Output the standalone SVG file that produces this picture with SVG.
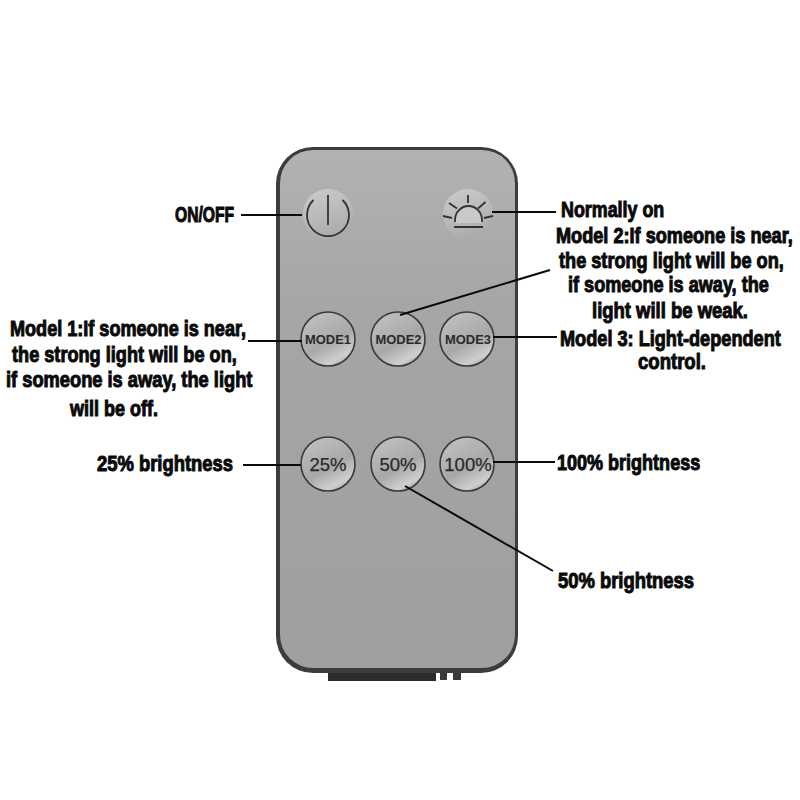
<svg xmlns="http://www.w3.org/2000/svg" width="800" height="800" viewBox="0 0 800 800">
  <style>
    .lbl { font-family: "Liberation Sans", Arial, sans-serif; font-weight: 700; font-size: 21.5px; fill: #0a0a0a; stroke: #0a0a0a; stroke-width: 1px; }
    .lead { stroke: #0a0a0a; stroke-width: 2; fill: none; stroke-linecap: butt; }
    .ring { fill: url(#key); stroke: #3a3a3a; stroke-width: 1.6; }
    .cap { font-family: "Liberation Sans", Arial, sans-serif; fill: #2a2a2a; stroke: #2a2a2a; stroke-width: .25px; text-anchor: middle; }
    .mode { font-weight: 700; font-size: 13px; stroke-width: 0; }
    .pct { font-size: 18.5px; }
    .soft { fill: url(#softKey); }
    .icon { fill: none; stroke: #333; stroke-width: 1.8; }
  </style>
  <defs>
    <linearGradient id="shell" x1="0" y1="0" x2="0" y2="1">
      <stop offset="0" stop-color="#b2b2b2"/>
      <stop offset=".3" stop-color="#a6a6a6"/>
      <stop offset="1" stop-color="#9f9f9f"/>
    </linearGradient>
    <linearGradient id="key" x1=".25" y1="0" x2=".8" y2="1">
      <stop offset="0" stop-color="#c0c0c0"/>
      <stop offset=".55" stop-color="#a8a8a8"/>
      <stop offset=".85" stop-color="#cfcfcf"/>
      <stop offset="1" stop-color="#9a9a9a"/>
    </linearGradient>
    <linearGradient id="softKey" x1=".3" y1="0" x2=".7" y2="1">
      <stop offset="0" stop-color="#c9c9c9"/>
      <stop offset=".6" stop-color="#b6b6b6"/>
      <stop offset="1" stop-color="#a9a9a9"/>
    </linearGradient>
  </defs>
  <rect width="800" height="800" fill="#fff"/>

  <g id="remote">
    <rect x="328" y="672" width="108" height="9" fill="#2b2b2b"/>
    <rect x="440" y="672" width="7" height="8" fill="#3a3a3a"/>
    <rect x="453" y="672" width="8" height="8" fill="#3a3a3a"/>
    <rect x="276" y="147" width="242" height="526" rx="37" fill="#3c3c3c"/>
    <rect x="280" y="150" width="235" height="518" rx="33" fill="url(#shell)"/>
  </g>

  <g id="btn-power">
    <circle class="soft" cx="328" cy="214" r="25"/>
    <path class="icon" stroke-width="2" d="M313.500 200A21 21 0 1 0 342.500 200"/>
    <path class="icon" stroke-width="2" d="M328 195V225"/>
  </g>
  <g id="btn-light">
    <circle class="soft" cx="468" cy="214" r="25"/>
    <path d="M455 221A13.500 15 0 0 1 482 221V223H455Z" fill="#c9c9c9"/>
    <path class="icon" d="M455 222V220A13.500 14 0 0 1 482 220V222"/>
    <path class="icon" d="M454 227H483M468 195V203M449 203L457 208.500M485.500 202L478 208.500M443 216L452 218M493 216L484 218"/>
  </g>

  <g id="btn-mode1"><circle class="ring" cx="328" cy="339" r="27"/><text class="cap mode" x="328" y="344" textLength="46" lengthAdjust="spacingAndGlyphs">MODE1</text></g>
  <g id="btn-mode2"><circle class="ring" cx="398" cy="339" r="27"/><text class="cap mode" x="398.500" y="344" textLength="46" lengthAdjust="spacingAndGlyphs">MODE2</text></g>
  <g id="btn-mode3"><circle class="ring" cx="467" cy="339" r="27"/><text class="cap mode" x="468" y="344" textLength="46" lengthAdjust="spacingAndGlyphs">MODE3</text></g>
  <g id="btn-25"><circle class="ring" cx="328" cy="464" r="27"/><text class="cap pct" x="328" y="471">25%</text></g>
  <g id="btn-50"><circle class="ring" cx="398" cy="464" r="27"/><text class="cap pct" x="398" y="471">50%</text></g>
  <g id="btn-100"><circle class="ring" cx="467" cy="464" r="27"/><text class="cap pct" x="468" y="471">100%</text></g>

  <g id="connectors">
    <path class="lead" d="M241 215H302"/>
    <path class="lead" d="M492 212H556"/>
    <path class="lead" d="M400 315L550 270"/>
    <path class="lead" d="M248 341H302"/>
    <path class="lead" d="M493 337H557"/>
    <path class="lead" d="M243 465H301"/>
    <path class="lead" d="M493 462H555"/>
    <path class="lead" d="M405 486L553 571"/>
  </g>

  <g id="label-onoff"><text class="lbl" transform="translate(175 222) scale(.8 1)" textLength="74" lengthAdjust="spacingAndGlyphs">ON/OFF</text></g>
  <g id="label-model1">
    <text class="lbl" transform="translate(10 336) scale(.8 1)" textLength="295" lengthAdjust="spacingAndGlyphs">Model 1:If someone is near,</text>
    <text class="lbl" transform="translate(12 362) scale(.8 1)" textLength="281" lengthAdjust="spacingAndGlyphs">the strong light will be on,</text>
    <text class="lbl" transform="translate(6 387) scale(.8 1)" textLength="308" lengthAdjust="spacingAndGlyphs">if someone is away, the light</text>
    <text class="lbl" transform="translate(70 416) scale(.8 1)" textLength="110" lengthAdjust="spacingAndGlyphs">will be off.</text>
  </g>
  <g id="label-25"><text class="lbl" transform="translate(97 471) scale(.8 1)" textLength="170" lengthAdjust="spacingAndGlyphs">25% brightness</text></g>
  <g id="label-normal"><text class="lbl" transform="translate(561 217) scale(.8 1)" textLength="129" lengthAdjust="spacingAndGlyphs">Normally on</text></g>
  <g id="label-model2">
    <text class="lbl" transform="translate(556 243) scale(.8 1)" textLength="296" lengthAdjust="spacingAndGlyphs">Model 2:If someone is near,</text>
    <text class="lbl" transform="translate(559 268) scale(.8 1)" textLength="281" lengthAdjust="spacingAndGlyphs">the strong light will be on,</text>
    <text class="lbl" transform="translate(568 292) scale(.8 1)" textLength="251" lengthAdjust="spacingAndGlyphs">if someone is away, the</text>
    <text class="lbl" transform="translate(592 318) scale(.8 1)" textLength="195" lengthAdjust="spacingAndGlyphs">light will be weak.</text>
  </g>
  <g id="label-model3">
    <text class="lbl" transform="translate(560 346) scale(.8 1)" textLength="276" lengthAdjust="spacingAndGlyphs">Model 3: Light-dependent</text>
    <text class="lbl" transform="translate(638 369) scale(.8 1)" textLength="85" lengthAdjust="spacingAndGlyphs">control.</text>
  </g>
  <g id="label-100"><text class="lbl" transform="translate(557 470) scale(.8 1)" textLength="179" lengthAdjust="spacingAndGlyphs">100% brightness</text></g>
  <g id="label-50"><text class="lbl" transform="translate(558 588) scale(.8 1)" textLength="170" lengthAdjust="spacingAndGlyphs">50% brightness</text></g>
</svg>
